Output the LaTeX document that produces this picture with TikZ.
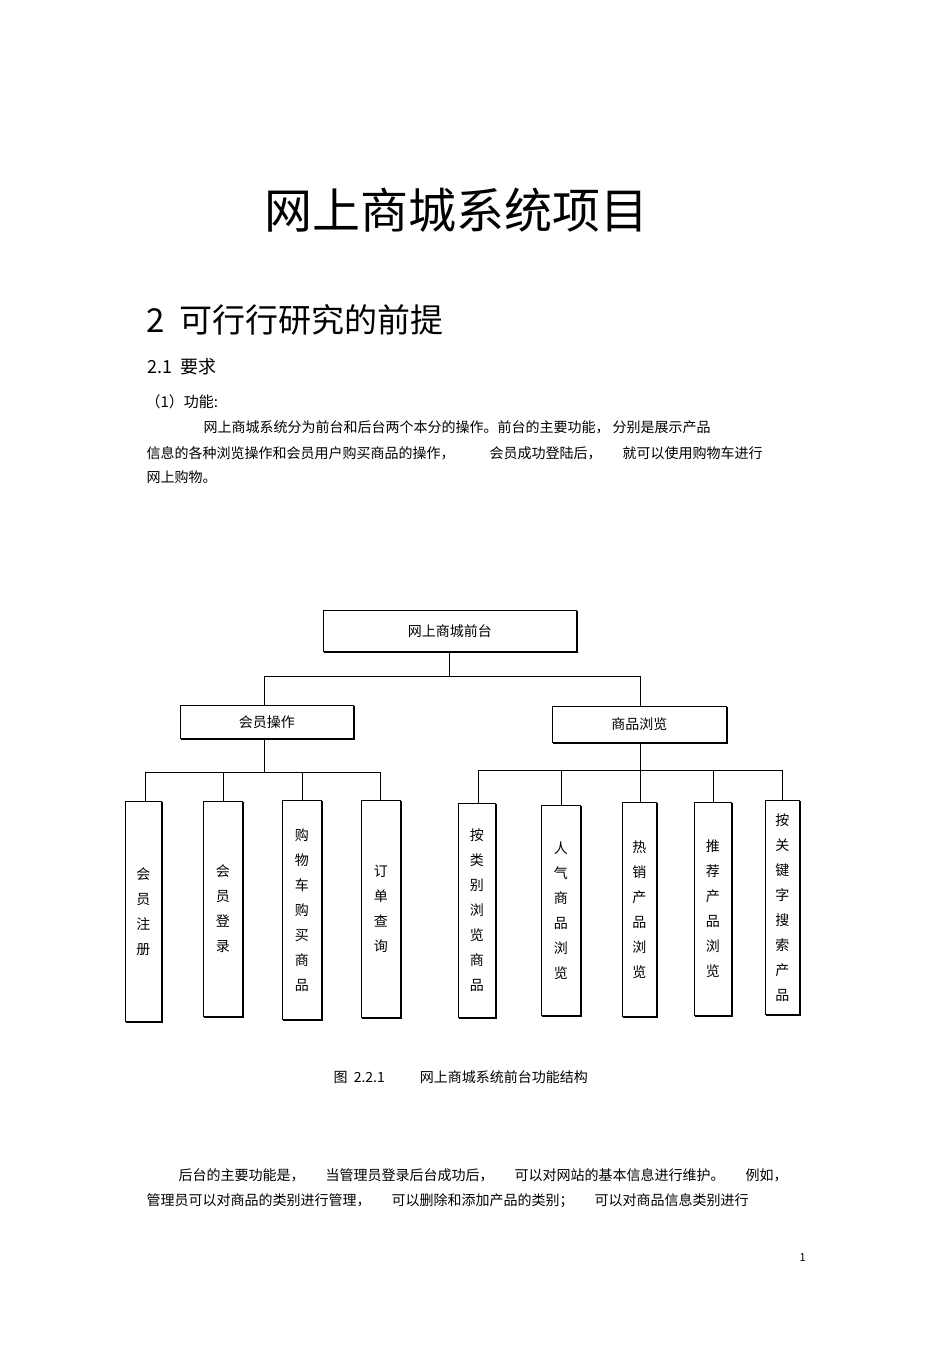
\documentclass[tikz,border=0pt]{standalone}
\usepackage{fontspec}
\setmainfont{Noto Sans CJK SC}
\begin{document}
\begin{tikzpicture}[x=1pt,y=-1pt,
 bx/.style={draw,line width=0.8pt,inner sep=0,anchor=north west},
 vt/.style={font=\fontsize{14}{25}\selectfont,align=center},
 ln/.style={line width=0.9pt}]
\useasboundingbox (0,0) rectangle (950,1345);
\node[font=\fontsize{48}{50}\selectfont] (title) at (456,210) {网上商城系统项目};
\node[font=\fontsize{33}{36}\selectfont,anchor=west] (h2) at (143,320) {2\ \ 可行行研究的前提};
\node[font=\fontsize{18}{20}\selectfont,anchor=west] (h21) at (144,367) {2.1\ \ 要求};
\node[font=\fontsize{15}{16}\selectfont,anchor=west] (h3) at (142,402) {（1）功能:};
\begin{scope}[every node/.style={font=\fontsize{14}{16}\selectfont,anchor=west}]
\node (p1) at (200,427) {网上商城系统分为前台和后台两个本分的操作。前台的主要功能，\ 分别是展示产品};
\node (p2) at (143,453) {信息的各种浏览操作和会员用户购买商品的操作，\hspace{2.5em}会员成功登陆后，\hspace{1.5em}就可以使用购物车进行};
\node (p3) at (143,477) {网上购物。};
\node (q1) at (175,1175) {后台的主要功能是，\hspace{1.5em}当管理员登录后台成功后，\hspace{1.5em}可以对网站的基本信息进行维护。\hspace{1.5em}例如，};
\node (q2) at (143,1201) {管理员可以对商品的类别进行管理，\hspace{1.5em}可以删除和添加产品的类别；\hspace{1.5em}可以对商品信息类别进行};
\node (cap) at (330,1077) {图\ \ 2.2.1\hspace{2.5em}网上商城系统前台功能结构};
\node[font=\fontsize{11}{12}\selectfont] (pg) at (796,1258) {1};
\end{scope}
% boxes
\newcommand{\bxx}[6]{\draw[line width=1.6pt] (#2+1.5,#3+1.5) rectangle (#4+1.5,#5+1.5);
 \node[bx,fill=white,minimum width=#4-#2,minimum height=#5-#3] (#1) at (#2,#3) {};
 \node[vt] at (#1.center) {#6};}
\bxx{root}{323}{610}{576}{651}{}
\node[font=\fontsize{14}{16}\selectfont] at (root.center) {网上商城前台};
\bxx{mem}{180}{705}{353}{738}{}
\node[font=\fontsize{14}{16}\selectfont] at (mem.center) {会员操作};
\bxx{prod}{552}{706}{726}{742}{}
\node[font=\fontsize{14}{16}\selectfont] at (prod.center) {商品浏览};
\bxx{a1}{125}{801}{161}{1021}{会\\员\\注\\册}
\bxx{a2}{203}{801}{242}{1016}{会\\员\\登\\录}
\bxx{a3}{282}{800}{321}{1019}{购\\物\\车\\购\\买\\商\\品}
\bxx{a4}{361}{800}{400}{1017}{订\\单\\查\\询}
\bxx{b1}{458}{803}{495}{1017}{按\\类\\别\\浏\\览\\商\\品}
\bxx{b2}{541}{805}{580}{1015}{人\\气\\商\\品\\浏\\览}
\bxx{b3}{622}{802}{656}{1016}{热\\销\\产\\品\\浏\\览}
\bxx{b4}{694}{802}{731}{1015}{推\\荐\\产\\品\\浏\\览}
\bxx{b5}{765}{800}{799}{1014}{按\\关\\键\\字\\搜\\索\\产\\品}
% connectors
\coordinate (r1) at (449,676);
\draw[ln] (449,653) -- (r1);
\draw[ln] (264,676) -- (640,676);
\draw[ln] (264,676) -- (mem.north -| 264,0);
\draw[ln] (640,676) -- (prod.north -| 640,0);
\draw[ln] (264,740) -- (264,772);
\draw[ln] (145,772) -- (380,772);
\foreach \n/\x in {a1/145,a2/223,a3/302,a4/380}{\draw[ln] (\x,772) -- (\n.north -| \x,0);}
\draw[ln] (640,744) -- (640,770);
\draw[ln] (478,770) -- (782,770);
\foreach \n/\x in {b1/478,b2/561,b3/640,b4/713,b5/782}{\draw[ln] (\x,770) -- (\n.north -| \x,0);}
\end{tikzpicture}
\end{document}
